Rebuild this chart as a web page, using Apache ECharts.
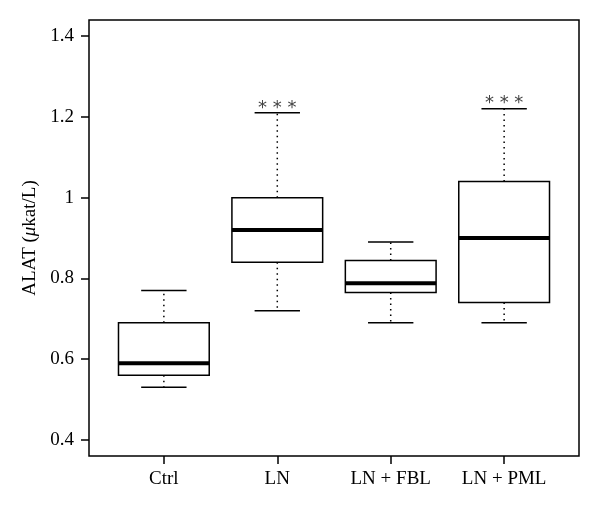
<!DOCTYPE html>
<html>
<head>
<meta charset="UTF-8">
<title>ALAT boxplot</title>
<script src="https://cdn.jsdelivr.net/npm/echarts@6/dist/echarts.min.js"></script>
<style>
  html, body { margin: 0; padding: 0; background: #fff; }
  #chart { width: 600px; height: 514px; }
</style>
</head>
<body>
<div id="chart"></div>
<script>
var categories = ['Ctrl', 'LN', 'LN + FBL', 'LN + PML'];
var whiskerLow = [0.53, 0.72, 0.69, 0.69];
var q1 = [0.56, 0.84, 0.765, 0.74];
var median = [0.59, 0.92, 0.788, 0.90];
var q3 = [0.69, 1.00, 0.844, 1.04];
var whiskerHigh = [0.77, 1.21, 0.89, 1.22];
var signif = ['', '***', '', '***'];
var yTicks = [0.4, 0.6, 0.8, 1.0, 1.2, 1.4];

var boxData = categories.map(function (c, i) {
    return [i + 1, whiskerLow[i], q1[i], median[i], q3[i], whiskerHigh[i], signif[i]];
});

var serif = '"Liberation Serif", "DejaVu Serif", serif';

function renderBox(params, api) {
    var x = api.value(0);
    var halfBox = 0.4, halfCap = 0.2;
    var pLow = api.coord([x, api.value(1)]);
    var pQ1 = api.coord([x, api.value(2)]);
    var pMed = api.coord([x, api.value(3)]);
    var pQ3 = api.coord([x, api.value(4)]);
    var pHigh = api.coord([x, api.value(5)]);
    var left = api.coord([x - halfBox, 0])[0];
    var right = api.coord([x + halfBox, 0])[0];
    var capL = api.coord([x - halfCap, 0])[0];
    var capR = api.coord([x + halfCap, 0])[0];
    var cx = pMed[0];
    var dotted = { stroke: '#000', lineWidth: 1.5, lineDash: [1.5, 4] };
    var solid = { stroke: '#000', lineWidth: 1.5 };
    var kids = [
        { type: 'line', shape: { x1: cx, y1: pQ3[1], x2: cx, y2: pHigh[1] }, style: dotted },
        { type: 'line', shape: { x1: cx, y1: pQ1[1], x2: cx, y2: pLow[1] }, style: dotted },
        { type: 'line', shape: { x1: capL, y1: pHigh[1], x2: capR, y2: pHigh[1] }, style: solid },
        { type: 'line', shape: { x1: capL, y1: pLow[1], x2: capR, y2: pLow[1] }, style: solid },
        { type: 'rect', shape: { x: left, y: pQ3[1], width: right - left, height: pQ1[1] - pQ3[1] },
          style: { fill: '#fff', stroke: '#000', lineWidth: 1.5 } },
        { type: 'line', shape: { x1: left, y1: pMed[1], x2: right, y2: pMed[1] },
          style: { stroke: '#000', lineWidth: 4 } }
    ];
    var star = api.value(6);
    if (star) {
        kids.push({
            type: 'text',
            style: {
                x: cx, y: pHigh[1] + 4, text: '* * *', fill: '#444',
                font: '18px "DejaVu Sans", sans-serif',
                textAlign: 'center', textVerticalAlign: 'bottom'
            }
        });
    }
    return { type: 'group', children: kids };
}

var chart = echarts.init(document.getElementById('chart'));
chart.setOption({
    animation: false,
    backgroundColor: '#fff',
    grid: {
        left: 89, right: 21, top: 20, bottom: 58,
        show: true, borderColor: '#000', borderWidth: 1.5
    },
    xAxis: {
        type: 'value', min: 0.34, max: 4.66,
        splitLine: { show: false },
        axisLine: { show: false },
        axisTick: { show: true, customValues: [1, 2, 3, 4], length: 8,
            lineStyle: { color: '#000', width: 1.5 } },
        axisLabel: {
            customValues: [1, 2, 3, 4], margin: 14,
            color: '#000', fontFamily: serif, fontSize: 19,
            formatter: function (v) { return categories[Math.round(v) - 1]; }
        }
    },
    yAxis: {
        type: 'value', min: 0.36, max: 1.44,
        splitLine: { show: false },
        axisLine: { show: false },
        axisTick: { show: true, customValues: yTicks, length: 8,
            lineStyle: { color: '#000', width: 1.5 } },
        axisLabel: {
            customValues: yTicks, margin: 15,
            color: '#000', fontFamily: serif, fontSize: 19,
            formatter: function (v) { return Math.abs(v - 1) < 1e-9 ? '1' : v.toFixed(1); }
        },
        name: '{n|ALAT (}{i|\u03bc}{n|kat/L)}',
        nameLocation: 'middle', nameGap: 46, nameRotate: 90,
        nameTextStyle: {
            rich: {
                n: { fontFamily: serif, fontSize: 19, color: '#000' },
                i: { fontFamily: serif, fontSize: 19, color: '#000', fontStyle: 'italic' }
            }
        }
    },
    series: [{
        type: 'custom',
        renderItem: renderBox,
        encode: { x: 0, y: [1, 2, 3, 4, 5] },
        data: boxData
    }]
});
</script>
</body>
</html>
